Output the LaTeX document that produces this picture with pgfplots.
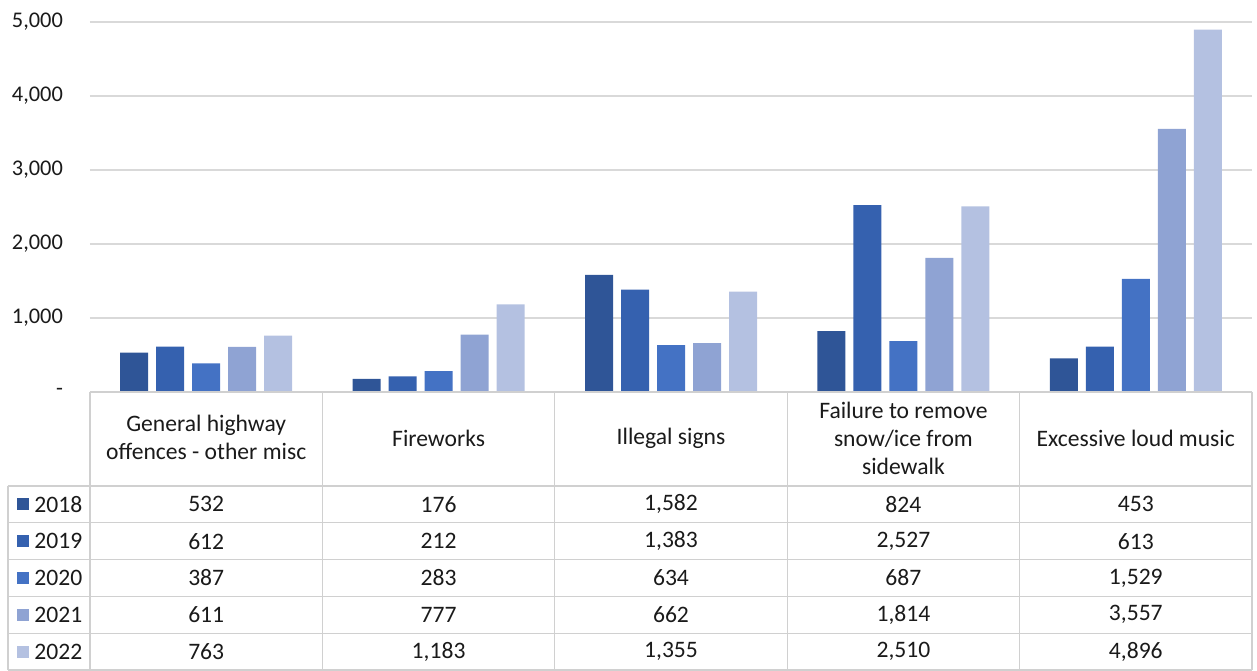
\documentclass[border=0pt]{standalone}
\usepackage{pgfplots}
\usepackage{pgfplotstable}
\pgfplotsset{compat=1.18}
\usepackage{fontspec}
\setmainfont{Carlito}

\definecolor{c2018}{HTML}{2F5597}
\definecolor{c2019}{HTML}{3561AF}
\definecolor{c2020}{HTML}{4472C4}
\definecolor{c2021}{HTML}{8FA3D3}
\definecolor{c2022}{HTML}{B4C1E1}
\definecolor{gridc}{HTML}{D9D9D9}
\definecolor{linec}{HTML}{D0D0D0}
\definecolor{txt}{HTML}{1A1A1A}

% offences by category (rows) and year (columns)
\pgfplotstableread{
idx y2018 y2019 y2020 y2021 y2022
0 532 612 387 611 763
1 176 212 283 777 1183
2 1582 1383 634 662 1355
3 824 2527 687 1814 2510
4 453 613 1529 3557 4896
}\datatable

\begin{document}
\begin{tikzpicture}
\begin{axis}[
  at={(0,0)}, anchor=south west,
  width=581pt, height=185pt, scale only axis,
  ybar=4pt, bar width=14pt,
  xmin=-0.5, xmax=4.5, ymin=0, ymax=5000,
  xtick=\empty,
  ytick={0,1000,2000,3000,4000,5000},
  yticklabels={{-\hspace{6pt}},{1,000},{2,000},{3,000},{4,000},{5,000}},
  yticklabel style={font=\fontsize{11.2}{13}\selectfont, text=txt, xshift=-10pt},
  ymajorgrids, grid style={gridc, line width=0.75pt},
  axis line style={draw=none},
  major tick style={draw=none},
  clip=false,
]
\addplot[fill=c2018, draw=none] table[x=idx, y=y2018] {\datatable};
\addplot[fill=c2019, draw=none] table[x=idx, y=y2019] {\datatable};
\addplot[fill=c2020, draw=none] table[x=idx, y=y2020] {\datatable};
\addplot[fill=c2021, draw=none] table[x=idx, y=y2021] {\datatable};
\addplot[fill=c2022, draw=none] table[x=idx, y=y2022] {\datatable};
\end{axis}

% data table below the plot
\def\colw{116.2}
\def\hdr{47}
\def\rowh{18.4}
\begin{scope}[linec, line width=0.6pt]
  \draw (0pt,0pt) -- (581pt,0pt);
  \foreach \i in {0,...,5} {
    \pgfmathsetmacro\yy{-\hdr-\rowh*\i}
    \draw (-41pt,\yy pt) -- (581pt,\yy pt);
  }
  \foreach \c in {0,...,5} {
    \pgfmathsetmacro\xx{\colw*\c}
    \draw (\xx pt,0pt) -- (\xx pt,-139pt);
  }
  \draw (-41pt,-\hdr pt) -- (-41pt,-139pt);
\end{scope}

\begin{scope}[every node/.style={text=txt, font=\fontsize{11.8}{14}\selectfont, align=center}]
  \node at (58.1pt,-22.5pt) {General highway\\offences - other misc};
  \node at (174.3pt,-23pt) {Fireworks};
  \node at (290.5pt,-23pt) {Illegal signs};
  \node at (406.7pt,-23pt) {Failure to remove\\snow/ice from\\sidewalk};
  \node at (522.9pt,-23pt) {Excessive loud music};

  \foreach \yr in {2018,...,2022} {
    \pgfmathsetmacro\yy{-\hdr-\rowh*(\yr-2018+0.5)}
    \fill[c\yr] (-36.5pt,\yy pt-3pt) rectangle ++(6pt,6pt);
    \node[anchor=west, inner sep=0pt] at (-28pt,\yy pt) {\yr};
    \foreach \k in {0,...,4} {
      \pgfplotstablegetelem{\k}{y\yr}\of\datatable
      \pgfmathsetmacro\xx{\colw*(\k+0.5)}
      \node at (\xx pt,\yy pt) {\pgfmathprintnumber[fixed, precision=0, 1000 sep={,}, assume math mode=true]{\pgfplotsretval}};
    }
  }
\end{scope}

\pgfresetboundingbox
\path[use as bounding box] (-45pt,-139pt) rectangle (583.5pt,196pt);
\end{tikzpicture}
\end{document}
